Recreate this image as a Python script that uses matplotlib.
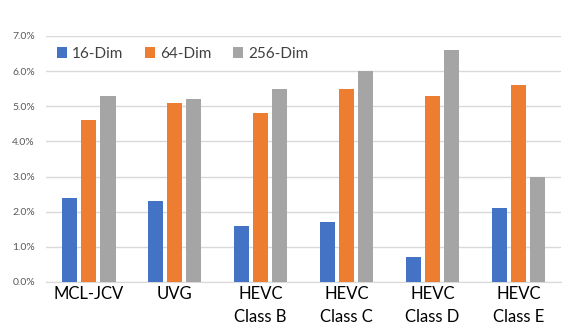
import numpy as np
import matplotlib.pyplot as plt
from matplotlib.ticker import FuncFormatter

plt.rcParams['font.family'] = ['Lato', 'DejaVu Sans']

# datos (porcentaje)
categorias = ['MCL-JCV', 'UVG', 'HEVC\nClass B', 'HEVC\nClass C', 'HEVC\nClass D', 'HEVC\nClass E']
dim16 = [2.4, 2.3, 1.6, 1.7, 0.7, 2.1]
dim64 = [4.6, 5.1, 4.8, 5.5, 5.3, 5.6]
dim256 = [5.3, 5.2, 5.5, 6.0, 6.6, 3.0]
series = ['16-Dim', '64-Dim', '256-Dim']
colores = ['#4472C4', '#ED7D31', '#A5A5A5']

fig = plt.figure(figsize=(5.75, 3.26), dpi=100)
ax = fig.add_axes([0.08, 0.135, 0.896, 0.755])

x = np.arange(len(categorias))
ancho = 0.175
paso = 0.222
for k, (datos, nombre, c) in enumerate(zip([dim16, dim64, dim256], series, colores)):
    ax.bar(x + (k - 1) * paso, datos, ancho, color=c, label=nombre, zorder=3)

ax.set_xlim(-0.5, len(categorias) - 0.5)
ax.set_ylim(0, 7.0)
ax.set_yticks(np.arange(0, 7.1, 1.0))
ax.yaxis.set_major_formatter(FuncFormatter(lambda v, p: '%.1f%%' % v))
ax.set_xticks(x)
ax.set_xticklabels(categorias, fontsize=12, color='black', va='top', linespacing=1.55)
ax.tick_params(axis='y', labelsize=7.5, colors='#595959', length=0, pad=8)
ax.tick_params(axis='x', length=0, pad=3)
ax.grid(axis='y', color='#D9D9D9', lw=1, zorder=0)
for s in ['top', 'right', 'left']:
    ax.spines[s].set_visible(False)
ax.spines['bottom'].set_color('#D9D9D9')

ax.legend(loc='upper left', bbox_to_anchor=(0.0, 1.0), ncol=3, frameon=False,
          fontsize=11, handlelength=0.7, handleheight=0.7, handletextpad=0.3,
          columnspacing=1.4, borderaxespad=0.3, labelcolor='#404040')

plt.savefig('out.png', dpi=100)
